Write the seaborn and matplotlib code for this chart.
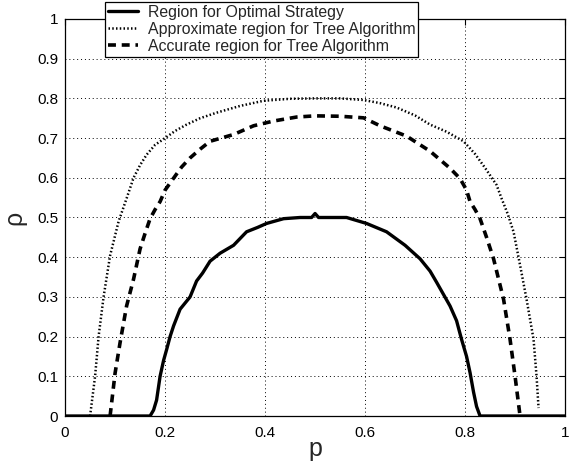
""" Stability regions: optimal strategy vs tree algorithm """

import matplotlib
matplotlib.use('Agg')
import matplotlib.pyplot as plt
import seaborn as sns
import pandas as pd

# Region for Optimal Strategy
p_opt = [0, 0.17, 0.177, 0.183, 0.19, 0.197, 0.203, 0.21, 0.217, 0.23, 0.25, 0.263, 0.275,
         0.29, 0.31, 0.337, 0.363, 0.385, 0.403, 0.437, 0.47, 0.493, 0.5, 0.507, 0.53,
         0.563, 0.603, 0.643, 0.68, 0.71, 0.73, 0.743, 0.77, 0.783, 0.793, 0.803, 0.81,
         0.817, 0.823, 0.83, 1.0]
rho_opt = [0, 0, 0.015, 0.04, 0.10, 0.14, 0.167, 0.2, 0.227, 0.269, 0.30, 0.34, 0.36,
           0.39, 0.41, 0.43, 0.464, 0.475, 0.485, 0.497, 0.50, 0.50, 0.51, 0.50, 0.50,
           0.50, 0.485, 0.464, 0.43, 0.396, 0.365, 0.337, 0.277, 0.24, 0.193, 0.15, 0.109,
           0.06, 0.024, 0, 0]

# Approximate region for Tree Algorithm
p_apx = [0.05, 0.055, 0.06, 0.067, 0.077, 0.09, 0.107, 0.123, 0.137, 0.15, 0.163, 0.18,
         0.2, 0.22, 0.243, 0.27, 0.303, 0.35, 0.397, 0.45, 0.5, 0.55, 0.597, 0.63, 0.663,
         0.7, 0.73, 0.763, 0.797, 0.82, 0.84, 0.863, 0.873, 0.885, 0.897, 0.91, 0.923,
         0.937, 0.943, 0.947]
rho_apx = [0.0, 0.05, 0.1, 0.2, 0.3, 0.404, 0.49, 0.548, 0.6, 0.632, 0.658, 0.683,
           0.70, 0.718, 0.734, 0.75, 0.764, 0.781, 0.794, 0.799, 0.80, 0.80, 0.796, 0.788,
           0.777, 0.757, 0.734, 0.716, 0.692, 0.66, 0.625, 0.582, 0.548, 0.51, 0.464, 0.38,
           0.294, 0.193, 0.1, 0.02]

# Accurate region for Tree Algorithm
p_acc = [0.09, 0.1, 0.11, 0.123, 0.137, 0.15, 0.16, 0.17, 0.18, 0.19, 0.2, 0.217, 0.233,
         0.25, 0.27, 0.29, 0.337, 0.377, 0.417, 0.463, 0.5, 0.55, 0.597, 0.63, 0.683, 0.73,
         0.77, 0.79, 0.803, 0.81, 0.82, 0.83, 0.843, 0.857, 0.877, 0.89, 0.9, 0.91]
rho_acc = [0, 0.108, 0.185, 0.277, 0.345, 0.421, 0.46, 0.497, 0.52, 0.54, 0.569, 0.599,
           0.627, 0.65, 0.672, 0.692, 0.709, 0.731, 0.743, 0.753, 0.756, 0.755, 0.751,
           0.731, 0.705, 0.667, 0.624, 0.598, 0.569, 0.54, 0.52, 0.497, 0.45, 0.396, 0.294,
           0.193, 0.1, 0.0]

labels = ['Region for Optimal Strategy',
          'Approximate region for Tree Algorithm',
          'Accurate region for Tree Algorithm']

sns.set_style('white')
plt.rcParams['font.family'] = ['Liberation Sans', 'DejaVu Sans']

fig = plt.figure(figsize=(5.76, 4.63), dpi=100)
ax = fig.add_axes([0.113, 0.1015, 0.868, 0.8575])

df_opt = pd.DataFrame({'p': p_opt, 'rho': rho_opt})
df_apx = pd.DataFrame({'p': p_apx, 'rho': rho_apx})
df_acc = pd.DataFrame({'p': p_acc, 'rho': rho_acc})

sns.lineplot(data=df_opt, x='p', y='rho', ax=ax, sort=False, color='black',
             linewidth=2.4, label=labels[0])
sns.lineplot(data=df_apx, x='p', y='rho', ax=ax, sort=False, color='black',
             linewidth=1.8, linestyle=(0, (0.6, 0.9)), label=labels[1])
sns.lineplot(data=df_acc, x='p', y='rho', ax=ax, sort=False, color='black',
             linewidth=2.6, linestyle=(0, (2.2, 1.6)), label=labels[2])

ax.set_xlim(0, 1)
ax.set_ylim(0, 1)
ax.set_xticks([0, 0.2, 0.4, 0.6, 0.8, 1])
ax.set_xticklabels(['0', '0.2', '0.4', '0.6', '0.8', '1'])
ax.set_yticks([i / 10 for i in range(11)])
ax.set_yticklabels(['0'] + ['%.1f' % (i / 10) for i in range(1, 10)] + ['1'])
ax.tick_params(direction='in', top=True, right=True, length=4, width=0.8,
               labelsize=11, colors='black')
ax.tick_params(axis='x', pad=7)
ax.tick_params(axis='y', pad=5)
ax.grid(True, color='black', linestyle=(0, (1, 3)), linewidth=0.7)

for s in ax.spines.values():
    s.set_color('black')
    s.set_linewidth(0.9)

ax.set_xlabel('p', fontsize=18, labelpad=-2)
ax.set_ylabel('ρ', fontsize=18, labelpad=8)

leg = ax.legend(loc='upper left', bbox_to_anchor=(0.182, 0.996),
                bbox_transform=fig.transFigure, fancybox=False, framealpha=1,
                edgecolor='black', fontsize=11.4, handlelength=1.9,
                borderpad=0.2, labelspacing=0.12, handletextpad=0.6,
                borderaxespad=0)
leg.get_frame().set_linewidth(0.9)

fig.savefig('out.png', dpi=100)
